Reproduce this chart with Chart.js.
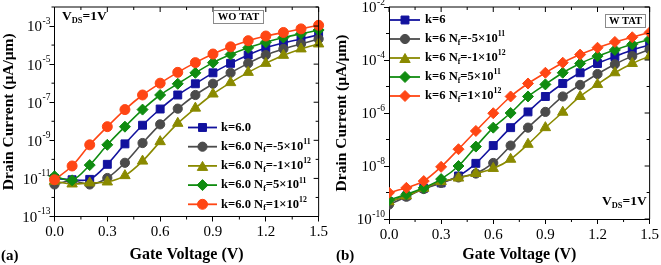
<!DOCTYPE html>
<html><head><meta charset="utf-8">
<script src="https://cdn.jsdelivr.net/npm/chart.js@4.4.1/dist/chart.umd.min.js"></script>
<style>
html,body{margin:0;padding:0;background:#fff;}
#wrap{position:relative;width:661px;height:265px;overflow:hidden;background:#fff;}
.c{position:absolute;top:0;}
</style></head><body>
<div id="wrap">
<canvas id="ca" class="c" style="left:0px" width="330" height="265"></canvas>
<canvas id="cb" class="c" style="left:330px" width="331" height="265"></canvas>
</div>
<script>
// ---------------- DATA ----------------
const gateVoltage = [0.0,0.1,0.2,0.3,0.4,0.5,0.6,0.7,0.8,0.9,1.0,1.1,1.2,1.3,1.4,1.5];
const xMajorTicks = [0.0,0.3,0.6,0.9,1.2,1.5];
const xTickLabels = ['0.0','0.3','0.6','0.9','1.2','1.5'];
const xMinorTicks = [0.15,0.45,0.75,1.05,1.35];

// Panel (a): WO TAT
const aK6      = [1.0e-11,8.5e-12,8.9e-12,5.5e-11,6.5e-10,6.2e-9,4.4e-8,2.4e-7,9.3e-7,3.5e-6,1.1e-5,3.0e-5,7.2e-5,1.3e-4,2.1e-4,3.5e-4];
const aNfM5e11 = [4.8e-12,7.6e-12,4.8e-12,1.05e-11,6.6e-11,7.2e-10,6.9e-9,4.6e-8,2.4e-7,9.3e-7,3.5e-6,1.1e-5,3.0e-5,6.3e-5,1.15e-4,2.1e-4];
const aNfM1e12 = [7.1e-12,5.1e-12,5.8e-12,6.5e-12,1.4e-11,8.1e-11,8.5e-10,7.8e-9,4.9e-8,2.7e-7,1.07e-6,3.7e-6,1.1e-5,2.9e-5,6.3e-5,1.15e-4];
const aNfP5e11 = [1.3e-11,7.9e-12,5.0e-11,5.8e-10,5.2e-9,4.1e-8,2.4e-7,9.3e-7,3.5e-6,1.2e-5,3.2e-5,7.2e-5,1.4e-4,2.5e-4,3.9e-4,6.2e-4];
const aNfP1e12 = [8.5e-12,4.5e-11,5.8e-10,5.2e-9,4.1e-8,2.4e-7,1.0e-6,3.7e-6,1.2e-5,3.4e-5,8.1e-5,1.7e-4,3.0e-4,4.6e-4,7.1e-4,1.1e-3];

// Panel (b): W TAT
const bK6      = [4.5e-10,7.4e-10,1.45e-9,2.3e-9,4.2e-9,1.26e-8,5.9e-8,2.8e-7,1.1e-6,4.2e-6,1.3e-5,3.3e-5,7.4e-5,1.35e-4,2.4e-4,3.7e-4];
const bNfM5e11 = [3.5e-10,6.9e-10,1.35e-9,2.3e-9,3.7e-9,5.2e-9,1.3e-8,5.9e-8,2.8e-7,1.1e-6,4.2e-6,1.15e-5,2.95e-5,6.9e-5,1.4e-4,2.5e-4];
const bNfM1e12 = [4.5e-10,7.4e-10,1.45e-9,2.6e-9,3.5e-9,5.2e-9,8.1e-9,1.8e-8,6.6e-8,2.8e-7,1.07e-6,4.2e-6,1.2e-5,3.3e-5,7.4e-5,1.4e-4];
const bNfP5e11 = [5.2e-10,8.5e-10,1.5e-9,3.2e-9,1.0e-8,5.4e-8,2.8e-7,1.0e-6,4.2e-6,1.2e-5,3.3e-5,7.4e-5,1.4e-4,2.4e-4,3.9e-4,6.0e-4];
const bNfP1e12 = [9.8e-10,1.5e-9,2.7e-9,9.3e-9,4.3e-8,2.1e-7,9.8e-7,4.2e-6,1.3e-5,3.3e-5,7.9e-5,1.6e-4,2.9e-4,4.8e-4,7.2e-4,1.1e-3];

// Y tick exponents
const aYMajorExp = [-3,-5,-7,-9,-11,-13];
const aYMinorExp = [-2,-4,-6,-8,-10,-12];
const bYMajorExp = [-2,-4,-6,-8,-10];
const bYMinorExp = [-3,-5,-7,-9];

// Legend labels (segments: [text, 'n'|'sub'|'sup'])
const aLegendLabels = [
  [['k=6.0','n']],
  [['k=6.0 N','n'],['f','sub'],['=-5×10','n'],['11','sup']],
  [['k=6.0 N','n'],['f','sub'],['=-1×10','n'],['12','sup']],
  [['k=6.0 N','n'],['f','sub'],['=5×10','n'],['11','sup']],
  [['k=6.0 N','n'],['f','sub'],['=1×10','n'],['12','sup']]
];
const bLegendLabels = [
  [['k=6','n']],
  [['k=6 N','n'],['f','sub'],['=-5×10','n'],['11','sup']],
  [['k=6 N','n'],['f','sub'],['=-1×10','n'],['12','sup']],
  [['k=6 N','n'],['f','sub'],['=5×10','n'],['11','sup']],
  [['k=6 N','n'],['f','sub'],['=1×10','n'],['12','sup']]
];
const xTitle = 'Gate Voltage (V)';
const yTitle = 'Drain Current (μA/μm)';

// ---------------- STYLE ----------------
const COL = {blue:'#12129e', gray:'#4b4b4b', olive:'#8a8a00', green:'#108c10', red:'#ff4614'};
const FONT = '"Liberation Serif", "Times New Roman", serif';

function series(vals, color, style, radius, order){
  return {
    data: gateVoltage.map((v,i)=>({x:v, y:vals[i]})),
    borderColor: color, backgroundColor: color,
    pointBackgroundColor: color, pointBorderColor: color,
    pointStyle: style, pointRadius: radius, pointBorderWidth: 1,
    borderWidth: 1.6, tension: 0.3, order: order, fill:false
  };
}

function drawMarker(ctx, style, x, y, r, color){
  ctx.save(); ctx.fillStyle = color; ctx.strokeStyle = color; ctx.lineWidth = 1;
  ctx.beginPath();
  if (style==='rect'){ const s=r*Math.SQRT1_2; ctx.rect(x-s,y-s,2*s,2*s); }
  else if (style==='circle'){ ctx.arc(x,y,r,0,Math.PI*2); }
  else if (style==='triangle'){
    for(let k=0;k<3;k++){ const a=-Math.PI/2+k*2*Math.PI/3; const px=x+r*Math.cos(a), py=y+r*Math.sin(a)+r*0.25; k?ctx.lineTo(px,py):ctx.moveTo(px,py);} ctx.closePath();
  }
  else if (style==='rectRot'){ ctx.moveTo(x,y-r); ctx.lineTo(x+r,y); ctx.lineTo(x,y+r); ctx.lineTo(x-r,y); ctx.closePath(); }
  ctx.fill(); ctx.stroke(); ctx.restore();
}

function drawRich(ctx, segs, x, y, size){
  let cx = x;
  ctx.textAlign='left'; ctx.textBaseline='middle'; ctx.fillStyle='#000';
  for (const [t,k] of segs){
    let fs=size, dy=0;
    if (k==='sub'){ fs=size*0.62; dy=size*0.3; }
    if (k==='sup'){ fs=size*0.62; dy=-size*0.36; }
    ctx.font = `bold ${fs}px ${FONT}`;
    ctx.fillText(t, cx, y+dy);
    cx += ctx.measureText(t).width;
  }
  return cx;
}

function makePlugin(p){
  return {
    id:'deco',
    afterDraw(chart){
      const ctx = chart.ctx, xs = chart.scales.x, ys = chart.scales.y;
      const {left,right,top,bottom} = chart.chartArea;
      ctx.save();
      ctx.strokeStyle='#000'; ctx.lineWidth=1;
      ctx.beginPath();
      ctx.moveTo(left,top); ctx.lineTo(right,top); ctx.lineTo(right,bottom);
      ctx.stroke();
      ctx.beginPath();
      for (const v of xMajorTicks){ const px=xs.getPixelForValue(v); ctx.moveTo(px,top); ctx.lineTo(px,top+5); }
      for (const v of xMinorTicks){ const px=xs.getPixelForValue(v);
        ctx.moveTo(px,top); ctx.lineTo(px,top+3); ctx.moveTo(px,bottom); ctx.lineTo(px,bottom+3); }
      for (const e of p.yMajor){ const py=ys.getPixelForValue(Math.pow(10,e)); ctx.moveTo(right,py); ctx.lineTo(right-5,py); }
      for (const e of p.yMinor){ const py=ys.getPixelForValue(Math.pow(10,e));
        ctx.moveTo(right,py); ctx.lineTo(right-3,py); ctx.moveTo(left,py); ctx.lineTo(left-3,py); }
      ctx.stroke();
      ctx.fillStyle='#000'; ctx.textBaseline='middle';
      for (const e of p.yMajor){
        const py=ys.getPixelForValue(Math.pow(10,e));
        const expTxt = String(e);
        ctx.font = `9.5px ${FONT}`; ctx.textAlign='right';
        const ew = ctx.measureText(expTxt).width;
        const xr = left-4;
        ctx.fillText(expTxt, xr, py-5);
        ctx.font = `15px ${FONT}`;
        ctx.fillText('10', xr-ew-0.5, py+1.5);
      }
      p.legend.forEach((lab,i)=>{
        const y = p.legY + i*p.legDy;
        const s = p.styles[i];
        ctx.strokeStyle=s.color; ctx.lineWidth=1.8;
        ctx.beginPath(); ctx.moveTo(p.legX1,y); ctx.lineTo(p.legX2,y); ctx.stroke();
        drawMarker(ctx, s.style, (p.legX1+p.legX2)/2, y, s.r, s.color);
        drawRich(ctx, lab, p.legTx, y, 12.6);
      });
      ctx.strokeStyle='#8a8a8a'; ctx.lineWidth=1;
      ctx.strokeRect(p.box.x+0.5, p.box.y+0.5, p.box.w, p.box.h);
      ctx.font=`bold 10.5px ${FONT}`; ctx.textAlign='center'; ctx.textBaseline='middle'; ctx.fillStyle='#000';
      ctx.fillText(p.box.text, p.box.x+p.box.w/2+0.5, p.box.y+p.box.h/2+1);
      drawRich(ctx, [['V','n'],['DS','sub'],['=1V','n']], p.vds.x, p.vds.y, 13.5);
      ctx.font=`bold 15px ${FONT}`; ctx.textAlign='left'; ctx.textBaseline='middle'; ctx.fillStyle='#000';
      ctx.fillText(p.tag.text, p.tag.x, p.tag.y);
      ctx.restore();
    }
  };
}

function makeChart(id, cfg){
  return new Chart(document.getElementById(id), {
    type:'line',
    data:{datasets: cfg.datasets},
    options:{
      responsive:false, animation:false, devicePixelRatio:1,
      layout:{padding:cfg.pad},
      plugins:{legend:{display:false}, tooltip:{enabled:false}},
      scales:{
        x:{type:'linear', min:0, max:1.5,
          afterBuildTicks:(s)=>{ s.ticks = xMajorTicks.map(v=>({value:v})); },
          afterFit:(s)=>{ s.height = cfg.xH; },
          ticks:{callback:(v,i)=>xTickLabels[i], color:'#000', padding:2, maxRotation:0, autoSkip:false,
                 font:{family:FONT, size:15}},
          grid:{drawOnChartArea:false, tickLength:5, color:'#000', lineWidth:1},
          border:{color:'#000', width:1},
          title:{display:true, text:xTitle, color:'#000', padding:{top:0,bottom:1}, font:{family:FONT, size:16, weight:'bold'}}
        },
        y:{type:'logarithmic', min:cfg.ymin, max:cfg.ymax,
          afterBuildTicks:(s)=>{ s.ticks = cfg.yMajor.map(e=>({value:Math.pow(10,e)})); },
          afterFit:(s)=>{ s.width = cfg.yW; },
          ticks:{display:false},
          grid:{drawOnChartArea:false, tickLength:5, color:'#000', lineWidth:1},
          border:{color:'#000', width:1},
          title:{display:true, text:yTitle, color:'#000', padding:{top:0,bottom:0}, font:{family:FONT, size:15.5, weight:'bold'}}
        }
      }
    },
    plugins:[makePlugin(cfg.deco)]
  });
}

// Panel (a)
const dsA = [
  series(aK6, COL.blue, 'rect', 5.6, 4),
  series(aNfM5e11, COL.gray, 'circle', 4.6, 3),
  series(aNfM1e12, COL.olive, 'triangle', 6, 2),
  series(aNfP5e11, COL.green, 'rectRot', 5.5, 1),
  series(aNfP1e12, COL.red, 'circle', 5, 0)
];
dsA.forEach(d=>d.clip=false);
makeChart('ca', {
  datasets: dsA, pad:{left:0, top:1.5, right:8.5, bottom:0}, xH:48.5, yW:54.5,
  ymin:1e-13, ymax:1e-2, yMajor:aYMajorExp,
  deco:{yMajor:aYMajorExp, yMinor:aYMinorExp, legend:aLegendLabels,
    styles:[{style:'rect',r:5.6,color:COL.blue},{style:'circle',r:4.6,color:COL.gray},{style:'triangle',r:6,color:COL.olive},{style:'rectRot',r:5.5,color:COL.green},{style:'circle',r:5,color:COL.red}],
    legX1:188, legX2:217, legTx:221, legY:127.5, legDy:19.2,
    box:{x:213, y:10, w:50, h:13, text:'WO TAT'},
    vds:{x:62, y:17}, tag:{text:'(a)', x:1, y:256}}
});

// Panel (b)
const dsB = [
  series(bK6, COL.blue, 'rect', 5.6, 4),
  series(bNfM5e11, COL.gray, 'circle', 4.6, 3),
  series(bNfM1e12, COL.olive, 'triangle', 6, 2),
  series(bNfP5e11, COL.green, 'rectRot', 5.5, 1),
  series(bNfP1e12, COL.red, 'rectRot', 5.5, 0)
];
makeChart('cb', {
  datasets: dsB, pad:{left:3, top:7, right:10, bottom:0}, xH:46, yW:56,
  ymin:1e-10, ymax:1e-2, yMajor:bYMajorExp,
  deco:{yMajor:bYMajorExp, yMinor:bYMinorExp, legend:bLegendLabels,
    styles:[{style:'rect',r:5.6,color:COL.blue},{style:'circle',r:4.6,color:COL.gray},{style:'triangle',r:6,color:COL.olive},{style:'rectRot',r:5.5,color:COL.green},{style:'rectRot',r:5.5,color:COL.red}],
    legX1:60, legX2:90, legTx:95, legY:20, legDy:19,
    box:{x:275, y:14, w:40, h:13, text:'W TAT'},
    vds:{x:272, y:202}, tag:{text:'(b)', x:6, y:256}}
});
</script>
</body></html>
